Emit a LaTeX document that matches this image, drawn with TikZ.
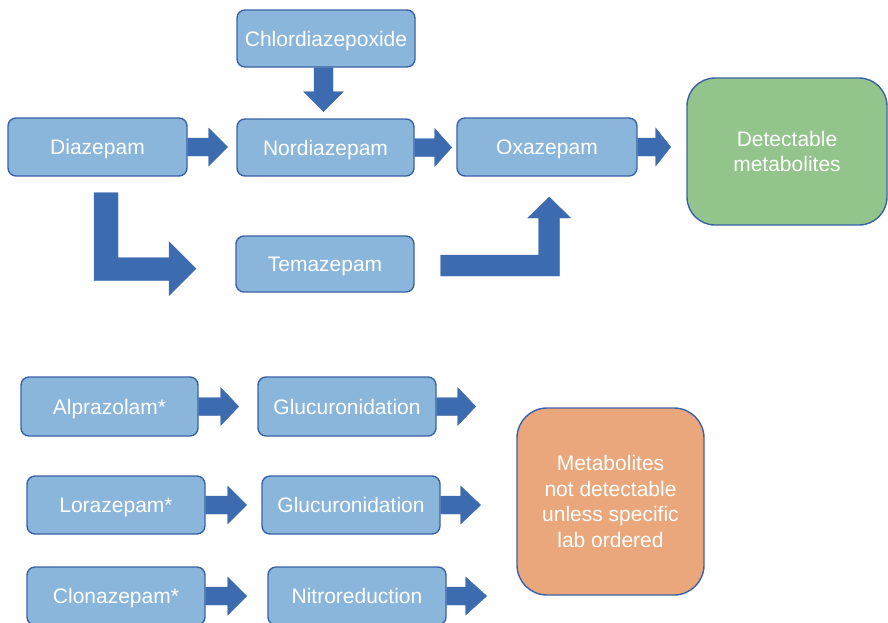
\documentclass[tikz,border=0pt]{standalone}
\usepackage{fontspec}
\setmainfont{Liberation Sans}
\usetikzlibrary{calc}
\definecolor{boxfill}{HTML}{8BB6DC}
\definecolor{boxline}{HTML}{3A62A6}
\definecolor{arrowc}{HTML}{3D6BB0}
\definecolor{greenfill}{HTML}{92C48C}
\definecolor{orangefill}{HTML}{EBA77C}
\tikzset{
  drug/.style={draw=boxline, line width=1.4pt, fill=boxfill, rounded corners=8pt,
    text=white, font=\fontsize{21}{25.5}\selectfont, inner sep=0pt, align=center,
    text height=15pt, text depth=0pt},
  bigbox/.style={draw=boxline, line width=1.4pt, rounded corners=28pt,
    text=white, font=\fontsize{21}{25.5}\selectfont, inner sep=0pt, align=center},
  blockarrow/.style={fill=arrowc, draw=arrowc, line width=0.4pt},
}
% horizontal block arrow: start point, shaft length, head length
\newcommand\harr[3]{\path[blockarrow] #1 ++(0,-9) -- ++(#2,0) -- ++(0,-10) -- ++(#3,19) -- ++(-#3,19) -- ++(0,-10) -- ++(-#2,0) -- cycle;}
\begin{document}
\begin{tikzpicture}[x=1pt,y=-1pt]
\useasboundingbox (0,0) rectangle (888,622);
% nodes
\node[drug, minimum width=178pt, minimum height=57pt] (chl) at (326,38.5) {Chlordiazepoxide};
\node[drug, minimum width=179pt, minimum height=58pt] (dia) at (97.5,147) {Diazepam};
\node[drug, minimum width=177pt, minimum height=57pt] (nor) at (325.5,147.5) {Nordiazepam};
\node[drug, minimum width=178pt, minimum height=56pt] (tem) at (325,264) {Temazepam};
\node[drug, minimum width=180pt, minimum height=58pt] (oxa) at (547,147) {Oxazepam};
\node[bigbox, fill=greenfill, minimum width=200pt, minimum height=147pt] (det) at (787,151.5) {Detectable\\metabolites};

\node[drug, minimum width=177pt, minimum height=59pt] (alp) at (109.5,406.5) {Alprazolam*};
\node[drug, minimum width=178pt, minimum height=59pt] (glu1) at (347,406.5) {Glucuronidation};
\node[drug, minimum width=178pt, minimum height=58pt] (lor) at (116,505) {Lorazepam*};
\node[drug, minimum width=178pt, minimum height=58pt] (glu2) at (351,505) {Glucuronidation};
\node[drug, minimum width=178pt, minimum height=58pt] (clo) at (116,596) {Clonazepam*};
\node[drug, minimum width=178pt, minimum height=58pt] (nit) at (357,596) {Nitroreduction};
\node[bigbox, fill=orangefill, rounded corners=30pt, minimum width=187pt, minimum height=187pt] (met) at (610.5,501.5) {Metabolites\\not detectable\\unless specific\\lab ordered};

% horizontal block arrows
\harr{(dia.east)}{21}{19}
\harr{(nor.east)}{20}{17}
\harr{(oxa.east)}{18}{15}
\harr{(alp.east)}{22}{18}
\harr{(glu1.east)}{21}{18}
\harr{(lor.east)}{22}{19}
\harr{(glu2.east)}{20}{20}
\harr{(clo.east)}{22}{19}
\harr{(nit.east)}{19}{21}

% down arrow Chlordiazepoxide -> Nordiazepam
\path[blockarrow] ($(chl.south)+(-2.5,0)$) ++(-9.5,0) -- ++(0,24) -- ++(-10.5,0) -- ++(20,20) -- ++(20,-20) -- ++(-10.5,0) -- ++(0,-24) -- cycle;

% L arrow Diazepam -> Temazepam
\coordinate (l0) at ($(dia.south)+(-3.5,16)$);
\path[blockarrow] (l0) -- ++(24,0) -- ++(0,65) -- ++(51,0) -- ++(0,-16) -- ++(27,27) -- ++(-27,27) -- ++(0,-15) -- ++(-75,0) -- cycle;

% bent arrow Temazepam -> Oxazepam
\coordinate (t0) at ($(tem.east)+(26,-9)$);
\path[blockarrow] (t0) -- ++(98,0) -- ++(0,-37) -- ++(-11,0) -- ++(21.5,-21) -- ++(21.5,21) -- ++(-11,0) -- ++(0,58) -- ++(-119,0) -- cycle;
\end{tikzpicture}
\end{document}
